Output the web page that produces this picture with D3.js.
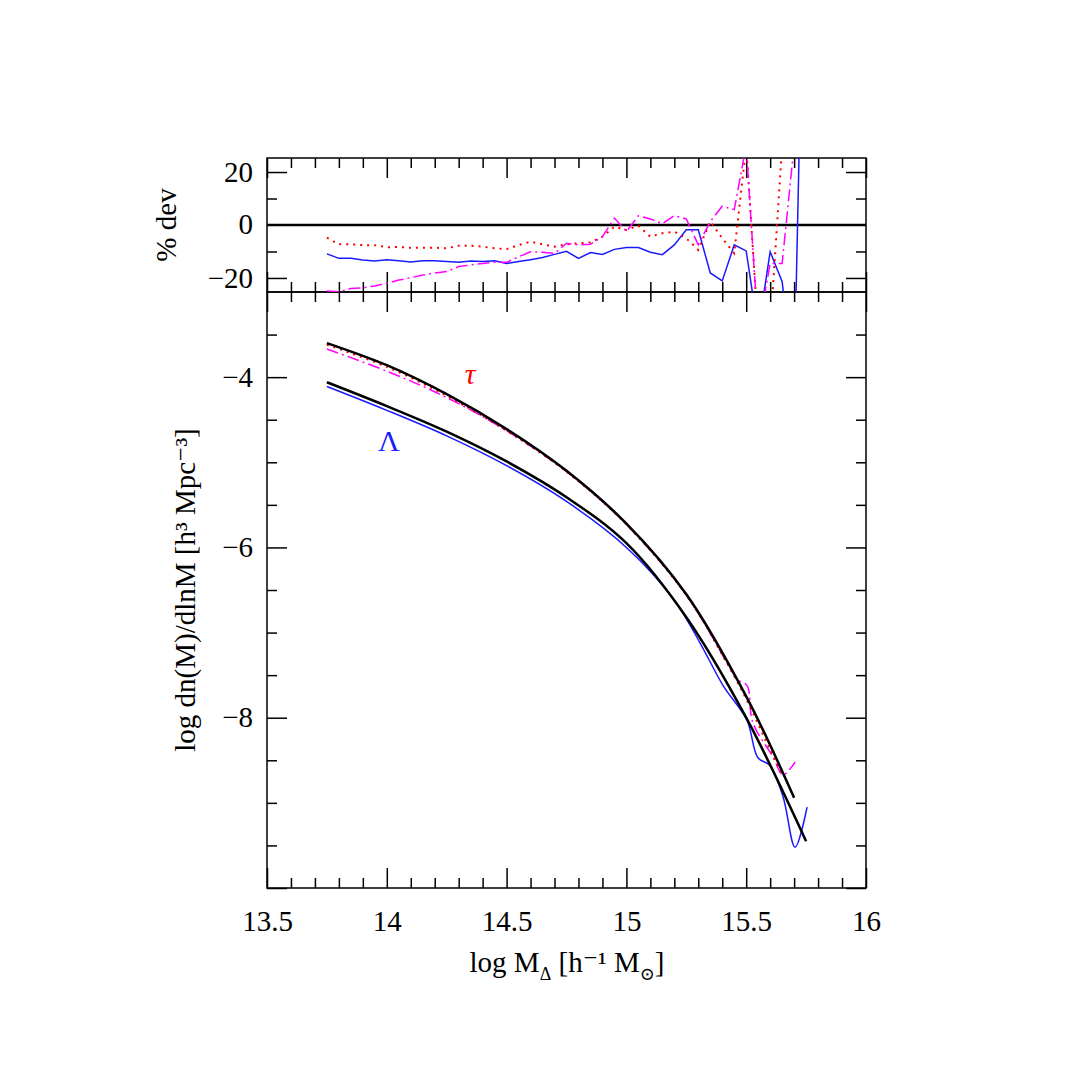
<!DOCTYPE html>
<meta charset="utf-8">
<style>
body { margin: 0; background: #fff; }
text { font-family: "Liberation Serif", "DejaVu Serif", serif; fill: #000; }
.tick line, .domain { stroke: #000; stroke-width: 1.5px; }
</style>
<svg width="1090" height="1090"></svg>
<script src="https://d3js.org/d3.v7.min.js"></script>
<script>

// fits (black)
var fitTauX = [13.75, 14.0, 14.25, 14.5, 14.75, 15.0, 15.25, 15.5, 15.7];
var fitTauY = [-3.60, -3.86, -4.20, -4.61, -5.10, -5.72, -6.55, -7.75, -8.94];
var fitLamX = [13.75, 14.0, 14.25, 14.5, 14.75, 15.0, 15.25, 15.5, 15.75];
var fitLamY = [-4.06, -4.34, -4.64, -4.99, -5.41, -5.95, -6.82, -8.0, -9.45];

// simulations, main panel
var lamX = [13.75, 14.0, 14.25, 14.5, 14.75, 15.0, 15.2, 15.307, 15.403, 15.503, 15.549, 15.599, 15.654, 15.704, 15.754];
var lamY = [-4.11, -4.39, -4.69, -5.04, -5.46, -6.0, -6.62, -7.12, -7.62, -8.03, -8.47, -8.56, -8.93, -9.52, -9.05];
var tauX = [13.75, 14.0, 14.25, 14.5, 14.75, 15.0, 15.25, 15.4, 15.5, 15.6, 15.65];
var tauY = [-3.62, -3.88, -4.22, -4.63, -5.11, -5.73, -6.56, -7.26, -7.78, -8.38, -8.67];
var tau2X = [13.75, 14.0, 14.25, 14.5, 14.75, 15.0, 15.25, 15.45, 15.466, 15.503, 15.528, 15.612, 15.654, 15.704];
var tau2Y = [-3.67, -3.93, -4.24, -4.63, -5.11, -5.73, -6.56, -7.50, -7.56, -7.62, -8.06, -8.46, -8.67, -8.52];

// % deviation, bins of 0.05 from 13.75
var devBins = d3.range(41).map(function(i) { return 13.75 + 0.05 * i; });
var devLam = [-10.9,-12.6,-12.6,-13.2,-13.6,-13.1,-13.5,-14.0,-13.5,-13.5,-13.8,-14.1,-13.6,-13.8,-13.5,-14.5,-13.8,-13.1,-12.3,-11.1,-9.95,-12.6,-10.4,-11.1,-9.2,-8.5,-8.5,-10.3,-11.2,-7.5,-1.8,-1.8,-18.1,-21.1,-7.5,-9.8,-40,-10.1,-21.4,-60,150];
var devTau = [-4.8,-7.3,-7.3,-7.6,-7.6,-8.4,-8.3,-8.6,-8.6,-8.6,-8.8,-7.8,-7.8,-8.2,-8.8,-9.1,-7.6,-6.3,-7.3,-8.2,-7.3,-6.9,-6.6,-4.4,-0.6,-1.9,-0.25,-4.4,-3.1,-2.5,-5.0,-9.4,1.3,-5.0,-10.7,30,-40,-40,30];
var devTau2 = [-24.9,-25.2,-24,-23.7,-23,-22,-20.8,-19.9,-18.9,-18.1,-17.6,-15.7,-15.1,-14.5,-14.1,-14.1,-12,-10.1,-10.3,-10.7,-6.9,-7.5,-7.3,-4.4,2.6,-2.5,3.5,2.3,0.5,3.5,2.3,-7.5,1.3,7.1,5.8,30,-40,-14.5,-14.5,30];

var xTicks = [13.5, 14, 14.5, 15, 15.5, 16];
var yTicks = [-4, -6, -8];
var devTicks = [20, 0, -20];

var svg = d3.select("svg");
var L = 267, R = 866, T1 = 158, B1 = 292, B2 = 888;

var x = d3.scaleLinear().domain([13.5, 16]).range([L, R]);
var y = d3.scaleLinear().domain([-10, -3]).range([B2, B1]);
var yd = d3.scaleLinear().domain([-25.3, 25.3]).range([B1, T1]);

svg.append("defs").selectAll("clipPath")
  .data([["c1", T1, B1], ["c2", B1, B2]])
  .enter().append("clipPath").attr("id", function(d) { return d[0]; })
  .append("rect").attr("x", L).attr("width", R - L)
  .attr("y", function(d) { return d[1]; }).attr("height", function(d) { return d[2] - d[1]; });

function frame(ys, top, bottom, major, minor, labels, showX) {
  var g = svg.append("g");
  var fmt = function(d) { return labels.indexOf(d) >= 0 ? d3.format("")(d).replace("-", "\u2212") : ""; };
  g.append("g").attr("transform", "translate(" + L + ",0)")
    .call(d3.axisLeft(ys).tickValues(minor).tickSize(-10).tickFormat(""));
  g.append("g").attr("transform", "translate(" + L + ",0)")
    .call(d3.axisLeft(ys).tickValues(major).tickSize(-20).tickFormat(fmt))
    .selectAll("text").attr("font-size", 29).attr("x", -14);
  g.append("g").attr("transform", "translate(" + R + ",0)")
    .call(d3.axisRight(ys).tickValues(minor).tickSize(-10).tickFormat(""));
  g.append("g").attr("transform", "translate(" + R + ",0)")
    .call(d3.axisRight(ys).tickValues(major).tickSize(-20).tickFormat(""));
  var xmin = d3.range(13.6, 16, 0.1).filter(function(v) { return Math.abs(v * 2 - Math.round(v * 2)) > 0.01; });
  [[bottom, d3.axisBottom], [top, d3.axisTop]].forEach(function(s) {
    g.append("g").attr("transform", "translate(0," + s[0] + ")")
      .call(s[1](x).tickValues(xmin).tickSize(-10).tickFormat(""));
    var a = g.append("g").attr("transform", "translate(0," + s[0] + ")")
      .call(s[1](x).tickValues(xTicks).tickSize(-20)
        .tickFormat(showX && s[0] === bottom ? d3.format("") : ""));
    a.selectAll("text").attr("font-size", 29).attr("y", 22).attr("dy", "0.71em");
  });
  g.selectAll(".domain").remove();
  g.append("rect").attr("x", L).attr("y", top).attr("width", R - L).attr("height", bottom - top)
    .attr("fill", "none").attr("stroke", "#000").attr("stroke-width", 1.5);
}

frame(y, B1, B2, [-10, -8, -6, -4], [-9.5, -9, -8.5, -7.5, -7, -6.5, -5.5, -5, -4.5, -3.5], yTicks, true);
frame(yd, T1, B1, [-20, 20], [-10, 10], devTicks, false);
svg.append("text").attr("x", L - 14).attr("y", yd(0)).attr("dy", "0.32em")
  .attr("text-anchor", "end").attr("font-size", 29).text("0");

var line = d3.line().x(function(d) { return x(d[0]); }).y(function(d) { return y(d[1]); });
var smooth = d3.line().curve(d3.curveCatmullRom).x(function(d) { return x(d[0]); }).y(function(d) { return y(d[1]); });
var dline = d3.line().x(function(d) { return x(d[0]); }).y(function(d) { return yd(d[1]); });

function zip(a, b) { return a.map(function(v, i) { return [v, b[i]]; }); }

var main = svg.append("g").attr("clip-path", "url(#c2)");
main.append("path").attr("d", smooth(zip(lamX, lamY))).attr("fill", "none").attr("stroke", "#1a1aff").attr("stroke-width", 1.5);
main.append("path").attr("d", smooth(zip(tau2X, tau2Y))).attr("fill", "none").attr("stroke", "#ff00ff").attr("stroke-width", 1.5).attr("stroke-dasharray", "12,4,2,4");
main.append("path").attr("d", smooth(zip(tauX, tauY))).attr("fill", "none").attr("stroke", "#ff0000").attr("stroke-width", 2).attr("stroke-dasharray", "2,5");
main.append("path").attr("d", smooth(zip(fitTauX, fitTauY))).attr("fill", "none").attr("stroke", "#000").attr("stroke-width", 2.5);
main.append("path").attr("d", smooth(zip(fitLamX, fitLamY))).attr("fill", "none").attr("stroke", "#000").attr("stroke-width", 2.5);

var dev = svg.append("g").attr("clip-path", "url(#c1)");
dev.append("line").attr("x1", L).attr("x2", R).attr("y1", yd(0)).attr("y2", yd(0)).attr("stroke", "#000").attr("stroke-width", 2.5);
dev.append("path").attr("d", dline(zip(devBins, devLam))).attr("fill", "none").attr("stroke", "#1a1aff").attr("stroke-width", 1.5);
dev.append("path").attr("d", dline(zip(devBins, devTau))).attr("fill", "none").attr("stroke", "#ff0000").attr("stroke-width", 2).attr("stroke-dasharray", "2,5");
dev.append("path").attr("d", dline(zip(devBins, devTau2))).attr("fill", "none").attr("stroke", "#ff00ff").attr("stroke-width", 1.5).attr("stroke-dasharray", "12,4,2,4");

svg.append("text").attr("x", 470).attr("y", 384).attr("text-anchor", "middle").attr("font-size", 30).attr("font-style", "italic").style("fill", "#ff0000").text("\u03c4");
svg.append("text").attr("x", 389).attr("y", 451).attr("text-anchor", "middle").attr("font-size", 30).style("fill", "#1a1aff").text("\u039b");

var xl = svg.append("text").attr("x", 567).attr("y", 972).attr("text-anchor", "middle").attr("font-size", 29);
xl.append("tspan").text("log  M");
xl.append("tspan").attr("font-size", 18).attr("dy", 8).text("\u0394");
xl.append("tspan").attr("dy", -8).text("  [h\u207b\u00b9  M");
xl.append("tspan").attr("font-size", 18).attr("dy", 8).text("\u2299");
xl.append("tspan").attr("dy", -8).text("]");

svg.append("text").attr("transform", "translate(195,590) rotate(-90)").attr("text-anchor", "middle")
  .attr("font-size", 29).text("log  dn(M)/dlnM  [h\u00b3  Mpc\u207b\u00b3]");
svg.append("text").attr("transform", "translate(176,225) rotate(-90)").attr("text-anchor", "middle")
  .attr("font-size", 29).text("%  dev");
</script>
